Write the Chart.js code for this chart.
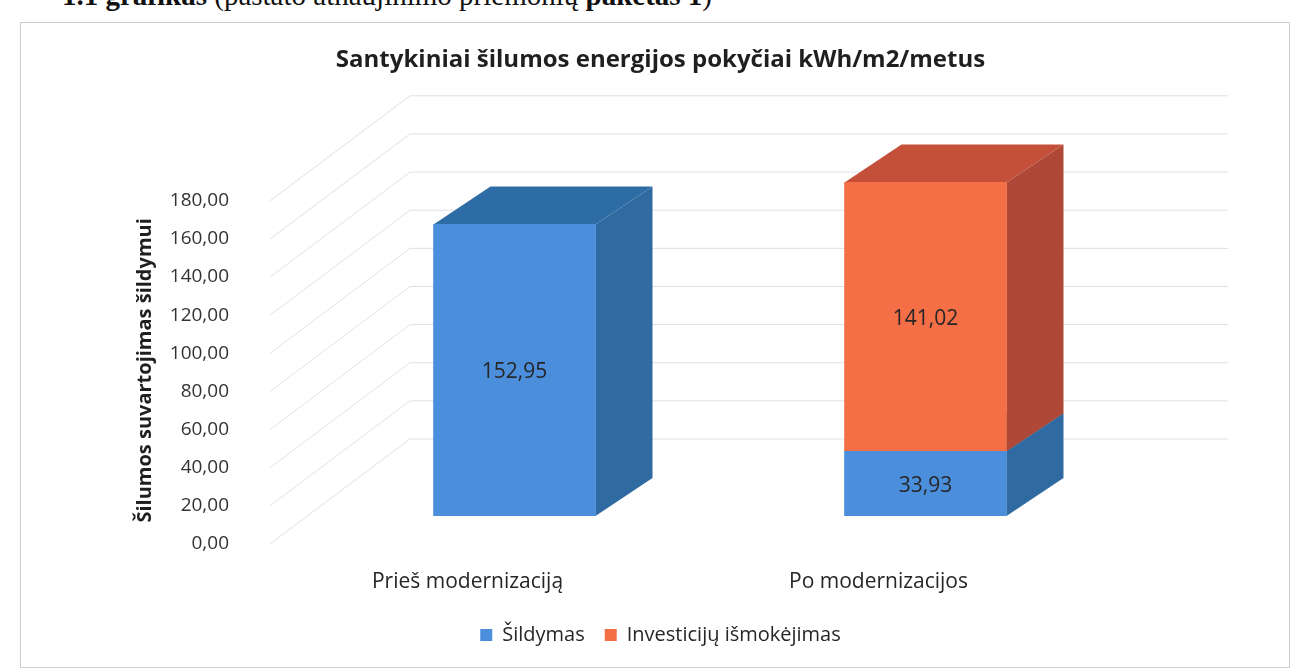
<!DOCTYPE html>
<html lang="lt">
<head>
<meta charset="utf-8">
<title>Santykiniai šilumos energijos pokyčiai</title>
<script src="https://cdn.jsdelivr.net/npm/chart.js@4.4.1/dist/chart.umd.min.js"></script>
<style>
  html, body { margin: 0; padding: 0; background: #fff; }
  body { width: 1304px; height: 672px; position: relative; overflow: hidden; }
  #caption {
    position: absolute; left: 62px; top: -19px;
    font: 29px/29px "Liberation Serif", serif; color: #111; white-space: nowrap;
  }
  #frame {
    position: absolute; left: 20px; top: 22px; width: 1268px; height: 644px;
    border: 1px solid #cfcfcf;
  }
  #wrap { position: absolute; left: 0; top: 0; width: 1304px; height: 672px; }
</style>
</head>
<body>
<div id="caption"><b>1.1 grafikas</b> (pastato atnaujinimo priemonių <b>paketas 1</b>)</div>
<div id="frame"></div>
<div id="wrap"><canvas id="chart" width="1304" height="672"></canvas></div>

<script>
// ---- Data ----
const categories   = ["Prieš modernizaciją", "Po modernizacijos"];
const sildymas     = [152.95, 33.93];
const investicijos = [null, 141.02];
const yTicks       = [0, 20, 40, 60, 80, 100, 120, 140, 160, 180];
const yTitle       = "Šilumos suvartojimas šildymui";

// 3D look
const DEPTH_X = 57, DEPTH_Y = -38;        // bar side depth
const WALL_FRONT_X = 270, WALL_BACK_X = 410, WALL_RIGHT_X = 1228;
const WALL_FRONT_DY = 28, WALL_BACK_DY = -77;

const FONT = '"Open Sans", "Noto Sans", sans-serif';
const fmt = v => v.toFixed(2).replace(".", ",");

// ---- Plugin: walls, gridlines, bar sides, labels ----
const box3d = {
  id: "box3d",
  beforeDatasetsDraw(chart) {
    const ctx = chart.ctx;
    const y = chart.scales.y;

    // wall gridlines (side wall + back wall)
    ctx.save();
    ctx.strokeStyle = "#dfdfea";
    ctx.lineWidth = 1;
    yTicks.forEach(v => {
      const py = y.getPixelForValue(v);
      ctx.beginPath();
      ctx.moveTo(WALL_FRONT_X, py + WALL_FRONT_DY);
      ctx.lineTo(WALL_BACK_X, py + WALL_BACK_DY);
      ctx.lineTo(WALL_RIGHT_X, py + WALL_BACK_DY);
      ctx.stroke();
    });
    ctx.restore();

    // top and right faces of each bar segment
    chart.data.datasets.forEach((ds, di) => {
      const meta = chart.getDatasetMeta(di);
      meta.data.forEach((bar, i) => {
        if (ds.data[i] == null) return;
        const p = bar.getProps(["x", "y", "base", "width"], true);
        const l = p.x - p.width / 2, r = p.x + p.width / 2;
        const t = Math.min(p.y, p.base), b = Math.max(p.y, p.base);

        ctx.fillStyle = ds.topColor;
        ctx.beginPath();
        ctx.moveTo(l, t);
        ctx.lineTo(l + DEPTH_X, t + DEPTH_Y);
        ctx.lineTo(r + DEPTH_X, t + DEPTH_Y);
        ctx.lineTo(r, t);
        ctx.closePath();
        ctx.fill();

        ctx.fillStyle = ds.sideColor;
        ctx.beginPath();
        ctx.moveTo(r, t);
        ctx.lineTo(r + DEPTH_X, t + DEPTH_Y);
        ctx.lineTo(r + DEPTH_X, b + DEPTH_Y);
        ctx.lineTo(r, b);
        ctx.closePath();
        ctx.fill();
      });
    });
  },
  afterDatasetsDraw(chart) {
    const ctx = chart.ctx;
    const y = chart.scales.y;

    // value labels in the middle of each front face
    ctx.save();
    ctx.font = "21px " + FONT;
    ctx.fillStyle = "#262626";
    ctx.textAlign = "center";
    ctx.textBaseline = "middle";
    chart.data.datasets.forEach((ds, di) => {
      chart.getDatasetMeta(di).data.forEach((bar, i) => {
        if (ds.data[i] == null) return;
        const p = bar.getProps(["x", "y", "base"], true);
        ctx.fillText(fmt(ds.data[i]), p.x, (p.y + p.base) / 2 + 2);
      });
    });
    ctx.restore();

    // y axis title, centred on the front wall edge
    ctx.save();
    ctx.font = "bold 20px " + FONT;
    ctx.fillStyle = "#1f1f1f";
    ctx.textAlign = "center";
    ctx.textBaseline = "middle";
    ctx.translate(y.left + 15, (y.top + y.bottom) / 2 + WALL_FRONT_DY - 2);
    ctx.rotate(-Math.PI / 2);
    ctx.fillText(yTitle, 0, 0);
    ctx.restore();
  }
};

// ---- Chart ----
new Chart(document.getElementById("chart"), {
  type: "bar",
  data: {
    labels: categories,
    datasets: [
      {
        label: "Šildymas",
        data: sildymas,
        backgroundColor: "#4b8fdc",
        sideColor: "#2f6aa0",
        topColor: "#2e6ca6"
      },
      {
        label: "Investicijų išmokėjimas",
        data: investicijos,
        backgroundColor: "#f46e46",
        sideColor: "#b04837",
        topColor: "#c4503a"
      }
    ]
  },
  options: {
    responsive: false,
    animation: false,
    devicePixelRatio: 1,
    layout: { padding: { left: 130, right: 113, top: 0, bottom: 17 } },
    datasets: { bar: { barThickness: 162, borderWidth: 0 } },
    plugins: {
      title: {
        display: true,
        text: "Santykiniai šilumos energijos pokyčiai kWh/m2/metus",
        color: "#1f1f1f",
        font: { family: FONT, size: 24, weight: "bold" },
        padding: { top: 46, bottom: 98 }
      },
      legend: {
        position: "bottom",
        labels: {
          color: "#262626",
          font: { family: FONT, size: 20 },
          boxWidth: 12,
          boxHeight: 12,
          padding: 20
        }
      },
      tooltip: { enabled: false }
    },
    scales: {
      x: {
        stacked: true,
        grid: { display: false },
        border: { display: false },
        ticks: {
          color: "#262626",
          font: { family: FONT, size: 21 },
          labelOffset: -47,
          padding: 45
        },
        afterFit: s => { s.height = 89; }
      },
      y: {
        stacked: true,
        min: 0,
        max: 180,
        grid: { display: false },
        border: { display: false },
        ticks: {
          stepSize: 20,
          color: "#333",
          font: { family: FONT, size: 19 },
          labelOffset: WALL_FRONT_DY,
          padding: 72,
          callback: v => fmt(v)
        },
        afterFit: s => { s.width = 179; }
      },
      // empty right-hand spacer so title and legend centre like the original
      yr: {
        position: "right",
        grid: { display: false },
        border: { display: false },
        ticks: { display: false },
        afterFit: s => { s.width = 60; }
      }
    }
  },
  plugins: [box3d]
});
</script>
</body>
</html>
